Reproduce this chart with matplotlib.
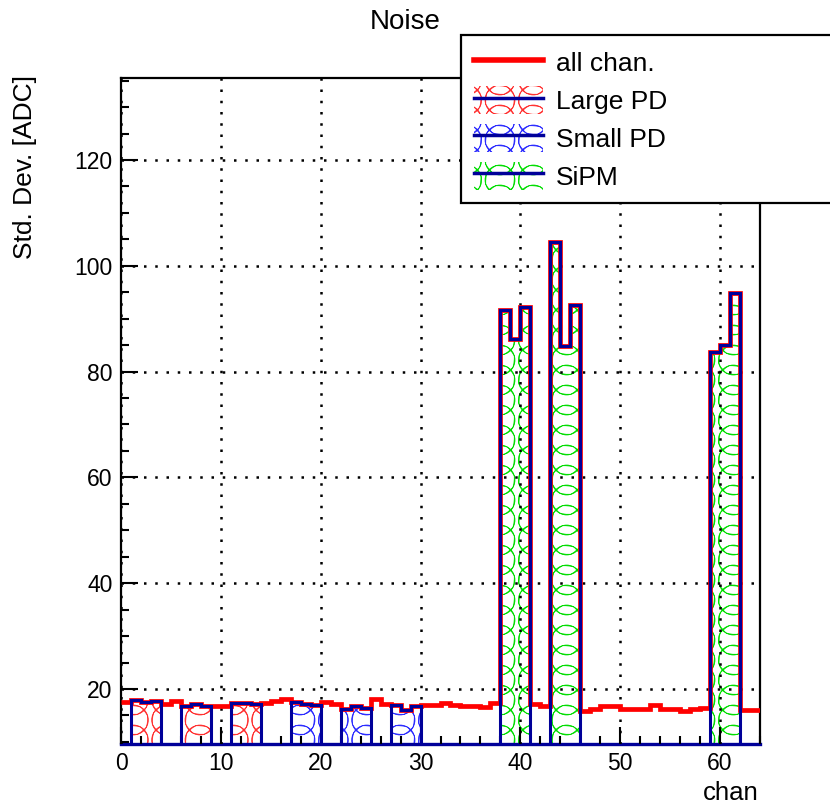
import numpy as np
import matplotlib
matplotlib.use("Agg")
import matplotlib.pyplot as plt
import matplotlib.hatch as mhatch
from matplotlib.path import Path
from matplotlib.ticker import MultipleLocator
from matplotlib.patches import Patch
from matplotlib.lines import Line2D
from matplotlib.legend_handler import HandlerTuple

plt.rcParams['font.family'] = ['Liberation Sans', 'DejaVu Sans']
plt.rcParams['hatch.linewidth'] = 0.5

# ---------------- data ----------------
n_chan = 64
all_chan = [
    17.6, 18.0, 17.5, 17.8, 17.1, 17.8, 16.8, 17.2, 16.8, 16.7,
    16.8, 17.3, 17.3, 17.2, 17.3, 17.8, 18.2, 17.6, 17.1, 16.9,
    17.6, 17.2, 16.2, 16.7, 16.4, 18.1, 17.2, 16.9, 16.0, 16.7,
    16.9, 17.0, 17.3, 17.0, 16.7, 16.8, 16.6, 17.4, 91.6, 86.2,
    92.2, 17.2, 16.8, 104.5, 84.8, 92.6, 15.8, 16.3, 16.8, 16.8,
    16.2, 16.3, 16.3, 16.9, 16.3, 16.2, 15.9, 16.3, 16.4, 83.7,
    85.0, 94.9, 16.0, 16.0,
]
large_pd_groups = [[1, 2, 3], [6, 7, 8], [11, 12, 13]]
small_pd_groups = [[17, 18, 19], [22, 23, 24], [27, 28, 29]]
sipm_groups = [[38, 39, 40], [43, 44, 45], [59, 60, 61]]

labels = ["all chan.", "Large PD", "Small PD", "SiPM"]
x_ticks = [0, 10, 20, 30, 40, 50, 60]
y_ticks = [20, 40, 60, 80, 100, 120]


# ---------- ROOT-like overlapping circle hatch (replaces 'O') ----------
class RootCircles(mhatch.HatchPatternBase):
    ncol, nrow, radius, inner = 3, 5, 0.15, 0.95

    def __init__(self, hatch, density):
        circ = Path.unit_circle()
        v = circ.vertices
        self.shape_vertices = np.concatenate([v, v[::-1] * self.inner])
        self.shape_codes = np.concatenate([circ.codes, circ.codes])
        self.centers = [(i / self.ncol, j / self.nrow)
                        for i in range(self.ncol + 1)
                        for j in range(self.nrow + 1)]
        if hatch.count('O') > 0:
            self.num_vertices = len(self.centers) * len(self.shape_vertices)
        else:
            self.num_vertices = 0

    def set_vertices_and_codes(self, vertices, codes):
        parts = [self.shape_vertices * self.radius + np.array(c)
                 for c in self.centers]
        np.concatenate(parts, out=vertices)
        codes[:] = np.tile(self.shape_codes, len(self.centers))


mhatch._hatch_types = [RootCircles if t is mhatch.LargeCircles else t
                       for t in mhatch._hatch_types]

# ---------------- style ----------------
W, H = 830, 805
fig = plt.figure(figsize=(W / 100, H / 100), dpi=100)
ax = fig.add_axes([121 / W, 1 - 744 / H, (760 - 121) / W, (744 - 78) / H])

ylo, yhi = 9.6, 135.5
navy = '#000099'
red = '#ff0000'
hatch_colors = ['#ff3030', '#2a2aff', '#00dd00']

edges_all = np.arange(n_chan + 1)
ax.stairs(all_chan, edges_all, baseline=None, color=red, lw=3.4, zorder=3)


def draw_groups(groups, hcolor):
    for g in groups:
        vals = [all_chan[c] for c in g]
        edges = np.arange(g[0], g[-1] + 2)
        ax.stairs(vals, edges, baseline=ylo, fill=True, facecolor='none',
                  edgecolor=hcolor, hatch='O', lw=0, zorder=2)
        ax.stairs(vals, edges, baseline=ylo, fill=False, color=navy,
                  lw=2.2, zorder=4)


draw_groups(large_pd_groups, hatch_colors[0])
draw_groups(small_pd_groups, hatch_colors[1])
draw_groups(sipm_groups, hatch_colors[2])

ax.set_xlim(0, n_chan)
ax.set_ylim(ylo, yhi)
ax.set_xticks(x_ticks)
ax.set_yticks(y_ticks)
ax.xaxis.set_minor_locator(MultipleLocator(2))
ax.yaxis.set_minor_locator(MultipleLocator(5))
ax.tick_params(which='both', direction='in', top=False, right=False,
               labelsize=16.5, width=1.5, color='black')
ax.tick_params(which='major', length=12, pad=6)
ax.tick_params(which='minor', length=6)
ax.grid(True, which='major', color='black', linestyle=(0, (1, 3.5)), lw=1.8)
ax.set_axisbelow(False)
for s in ['left', 'top', 'right']:
    ax.spines[s].set_linewidth(1.6)
ax.spines['bottom'].set_color(navy)
ax.spines['bottom'].set_linewidth(2.4)

fig.text(405 / W, 1 - 22 / H, "Noise", ha='center', va='center', fontsize=20)
fig.text(25 / W, 1 - 75 / H, "Std. Dev. [ADC]", rotation=90, ha='center',
         va='top', fontsize=19)
fig.text(759 / W, 1 - 793 / H, "chan", ha='right', va='center', fontsize=18.5)

handles = [Line2D([], [], color=red, lw=4)]
for hc in hatch_colors:
    handles.append((Patch(facecolor='none', edgecolor=hc, hatch='O', lw=0),
                    Line2D([], [], color=navy, lw=2.5)))

leg = fig.legend(handles, labels, loc='upper left',
                 bbox_to_anchor=(461 / W, 1 - 203 / H, 500 / W, 168 / H),
                 bbox_transform=fig.transFigure, mode='expand',
                 borderaxespad=0, fontsize=19, frameon=True, fancybox=False,
                 edgecolor='black', framealpha=1, handlelength=2.6,
                 handleheight=1.25, handletextpad=0.5, labelspacing=0.38,
                 borderpad=0.5,
                 handler_map={tuple: HandlerTuple(ndivide=1)})
leg.get_frame().set_linewidth(1.6)

fig.savefig("out.png", dpi=100)
